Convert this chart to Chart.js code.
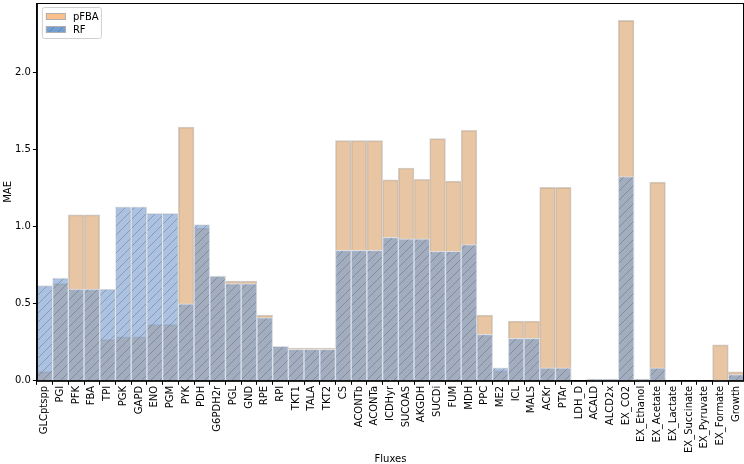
<!DOCTYPE html>
<html lang="en">
<head>
  <meta charset="UTF-8">
  <title>MAE per flux</title>
  <script src="https://cdn.jsdelivr.net/npm/chart.js"></script>
  <style>
    html, body { margin: 0; padding: 0; background: #fff; }
    #wrap { width: 744px; height: 464px; position: relative; }
  </style>
</head>
<body>
  <div id="wrap"><canvas id="chart" width="744" height="464"></canvas></div>
  <script>
    const fluxes = ["GLCptspp", "PGI", "PFK", "FBA", "TPI", "PGK", "GAPD", "ENO", "PGM", "PYK",
      "PDH", "G6PDH2r", "PGL", "GND", "RPE", "RPI", "TKT1", "TALA", "TKT2", "CS",
      "ACONTb", "ACONTa", "ICDHyr", "SUCOAS", "AKGDH", "SUCDi", "FUM", "MDH", "PPC", "ME2",
      "ICL", "MALS", "ACKr", "PTAr", "LDH_D", "ACALD", "ALCD2x", "EX_CO2", "EX_Ethanol", "EX_Acetate",
      "EX_Lactate", "EX_Succinate", "EX_Pyruvate", "EX_Formate", "Growth"];

    const pfbaMae = [0.06, 0.63, 1.076, 1.076, 0.267, 0.286, 0.286, 0.364, 0.364, 1.645,
      0.99, 0.68, 0.647, 0.647, 0.426, 0.224, 0.212, 0.212, 0.212, 1.558,
      1.558, 1.558, 1.303, 1.38, 1.307, 1.571, 1.295, 1.625, 0.426, 0.065,
      0.387, 0.387, 1.254, 1.254, 0, 0.012, 0.012, 2.337, 0.012, 1.288,
      0, 0, 0, 0.233, 0.058];

    const rfMae = [0.617, 0.666, 0.595, 0.595, 0.595, 1.129, 1.129, 1.086, 1.086, 0.5,
      1.013, 0.68, 0.63, 0.63, 0.41, 0.224, 0.205, 0.205, 0.205, 0.846,
      0.846, 0.846, 0.93, 0.921, 0.921, 0.84, 0.84, 0.883, 0.301, 0.085,
      0.275, 0.275, 0.085, 0.085, 0, 0.01, 0.01, 1.325, 0.01, 0.085,
      0, 0, 0, 0.005, 0.04];

    const yTicks = [0, 0.5, 1.0, 1.5, 2.0];

    const FONT = "'DejaVu Sans', sans-serif";
    const PFBA_FILL = 'rgba(210, 146, 80, 0.52)';
    const RF_FILL = 'rgba(120, 157, 208, 0.62)';

    // "//" hatch on top of the semi transparent blue
    function hatchPattern(fill, size) {
      const c = document.createElement('canvas');
      c.width = size; c.height = size;
      const g = c.getContext('2d');
      g.fillStyle = fill;
      g.fillRect(0, 0, size, size);
      g.strokeStyle = 'rgba(80, 80, 80, 0.45)';
      g.lineWidth = 0.8;
      g.beginPath();
      g.moveTo(-1, size + 1); g.lineTo(size + 1, -1);
      g.moveTo(-1, 1); g.lineTo(1, -1);
      g.moveTo(size - 1, size + 1); g.lineTo(size + 1, size - 1);
      g.stroke();
      return g.createPattern(c, 'repeat');
    }
    const rfPattern = hatchPattern(RF_FILL, 9);

    // frame on all four sides + legend box inside the plot
    const framePlugin = {
      id: 'frame',
      afterDraw(chart) {
        const { ctx, chartArea: a } = chart;
        ctx.save();
        ctx.strokeStyle = '#000';
        ctx.lineWidth = 1;
        ctx.strokeRect(a.left + 0.5, a.top + 0.5, a.right - a.left - 1, a.bottom - a.top);

        const x = a.left + 5, y = a.top + 4, w = 59, h = 31;
        ctx.fillStyle = 'rgba(255,255,255,0.8)';
        ctx.strokeStyle = '#d0d0d0';
        ctx.beginPath();
        ctx.roundRect(x + 0.5, y + 0.5, w, h, 2);
        ctx.fill(); ctx.stroke();

        const items = [['pFBA', 'rgba(250, 180, 120, 0.85)', false], ['RF', 'rgba(100, 150, 205, 0.9)', true]];
        items.forEach(([name, col, hatch], i) => {
          const py = y + 6 + i * 13;
          ctx.fillStyle = hatch ? hatchPattern(col, 9) : col;
          ctx.fillRect(x + 4, py, 20, 7);
          ctx.strokeStyle = '#b0b0b0';
          ctx.lineWidth = 1;
          ctx.strokeRect(x + 4.5, py + 0.5, 19, 6);
          ctx.fillStyle = '#000';
          ctx.font = '10px ' + FONT;
          ctx.textBaseline = 'middle';
          ctx.fillText(name, x + 31, py + 4);
        });
        ctx.restore();
      }
    };

    new Chart(document.getElementById('chart'), {
      type: 'bar',
      data: {
        labels: fluxes,
        datasets: [
          {
            label: 'pFBA',
            data: pfbaMae,
            backgroundColor: PFBA_FILL,
            borderColor: 'rgba(205, 205, 205, 0.9)',
            borderWidth: 1,
            grouped: false,
            order: 2
          },
          {
            label: 'RF',
            data: rfMae,
            backgroundColor: rfPattern,
            borderColor: 'rgba(225, 225, 225, 0.9)',
            borderWidth: 1,
            grouped: false,
            order: 1
          }
        ]
      },
      plugins: [framePlugin],
      options: {
        responsive: false,
        animation: false,
        layout: { padding: { left: 3, right: 0, top: 1, bottom: 0 } },
        datasets: { bar: { categoryPercentage: 1.0, barPercentage: 1.0 } },
        plugins: { legend: { display: false }, tooltip: { enabled: false } },
        scales: {
          x: {
            offset: true,
            grid: { display: true, drawOnChartArea: false, drawTicks: true, tickLength: 4, color: '#000' },
            border: { display: true, color: '#000' },
            ticks: { color: '#000', font: { family: FONT, size: 10, lineHeight: 0.6 }, minRotation: 90, maxRotation: 90, autoSkip: false, padding: 1 },
            title: { display: true, text: 'Fluxes', color: '#000', font: { family: FONT, size: 10, lineHeight: 1 }, padding: { top: 0, bottom: 0 } }
          },
          y: {
            min: 0,
            max: 2.45,
            afterBuildTicks: axis => { axis.ticks = yTicks.map(v => ({ value: v })); },
            grid: { display: true, drawOnChartArea: false, drawTicks: true, tickLength: 4, color: '#000' },
            border: { display: true, color: '#000' },
            ticks: { color: '#000', font: { family: FONT, size: 10, lineHeight: 0.2 }, padding: 2, callback: v => v.toFixed(1) },
            title: { display: true, text: 'MAE', color: '#000', font: { family: FONT, size: 10, lineHeight: 1 }, padding: { top: 0, bottom: 0 } }
          }
        }
      }
    });
  </script>
</body>
</html>
